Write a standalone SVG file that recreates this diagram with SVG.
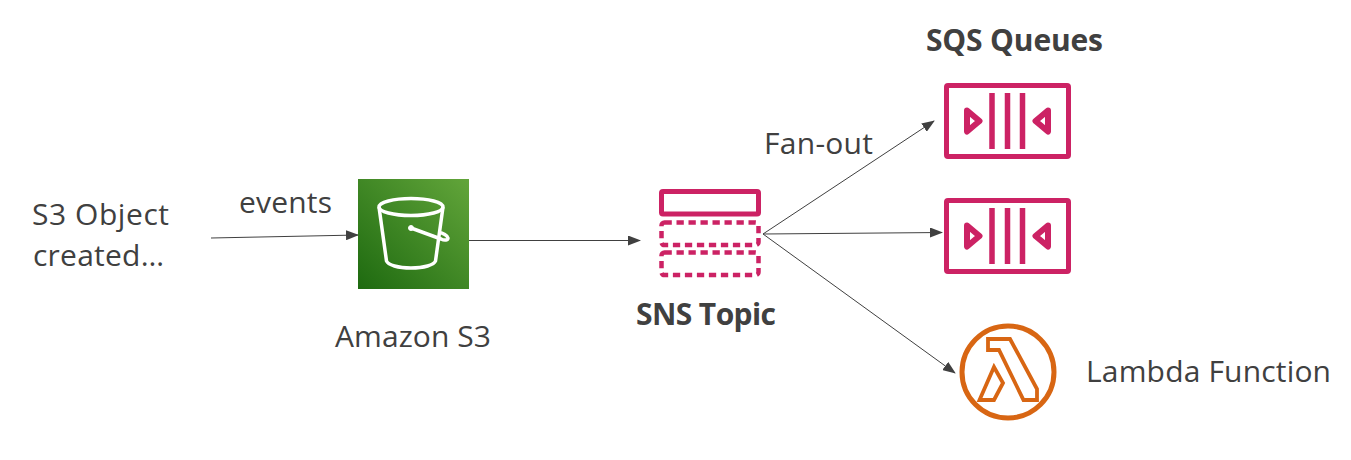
<svg xmlns="http://www.w3.org/2000/svg" width="1351" height="460" viewBox="0 0 1351 460">
<style>
text{font-family:"Open Sans","Noto Sans","Liberation Sans",sans-serif;font-size:30px;fill:#404040}
.b{font-weight:700}
.c{stroke:#404040;stroke-width:1;fill:none;marker-end:url(#a)}
.p{stroke:#cc2264;fill:none;stroke-width:5}
.d{stroke-width:4.500;stroke-dasharray:7.300 4.700}
.q{stroke:#cc2264;fill:none;stroke-width:5}
.r{stroke:#cc2264;fill:none;stroke-width:5.500}
.t{stroke:#cc2264;fill:none;stroke-width:6;stroke-linejoin:round}
.w{stroke:#fff;fill:none;stroke-width:3.500;stroke-linejoin:round}
.l{stroke:#d86613;fill:none;stroke-width:5}
.m{stroke:#d86613;fill:none;stroke-width:3.800;stroke-linejoin:miter}
</style>
<defs>
<marker id="a" markerWidth="14" markerHeight="10" refX="12" refY="5" orient="auto" markerUnits="userSpaceOnUse"><path d="M0 0L13 5L0 10Z" fill="#404040"/></marker>
<linearGradient id="g" x1="0" y1="1" x2="1" y2="0"><stop offset="0" stop-color="#1e6a10"/><stop offset="1" stop-color="#62a53a"/></linearGradient>
<g id="q"><rect class="q" x="946.500" y="85.500" width="122" height="71" rx="1.500"/>
<path class="r" d="M992 93V149M1007.500 93V149M1022.500 93V149"/>
<path class="t" d="M967 110.500L979.500 121L967 131.500Z"/>
<path class="t" d="M1048 110.500L1035.500 121L1048 131.500Z"/></g>
</defs>
<g id="connectors">
<path class="c" d="M211 238L358 235"/>
<path class="c" d="M469 240.500L640 240.500"/>
<path class="c" d="M763 234L934 121"/>
<path class="c" d="M763 234L942 232.500"/>
<path class="c" d="M763 234L955 373"/>
</g>
<g id="s3-object"><text x="32" y="225" textLength="137">S3 Object</text><text x="33" y="266" textLength="131">created…</text></g>
<text id="events" x="239" y="213" textLength="93">events</text>
<g id="s3"><rect x="358" y="179" width="111" height="110" fill="url(#g)"/>
<ellipse class="w" cx="411" cy="207" rx="32" ry="8.500"/>
<path class="w" d="M379 207L386.500 261C388 265 398 268 411 268C424 268 434 265 435.500 261L443 207"/>
<path class="w" d="M411 228L441 239C445 241 448 240 448 238C447.500 235.500 443 233 439 232.500"/>
<circle cx="411" cy="228" r="2.500" fill="#fff" stroke="#fff"/>
<text x="335" y="347" textLength="156">Amazon S3</text></g>
<g id="sns"><rect class="p" x="661.500" y="191.500" width="97" height="22.500" rx="1.500"/>
<rect class="p d" x="661.500" y="222.500" width="97" height="22.500" rx="3"/>
<rect class="p d" x="661.500" y="252.500" width="97" height="22.500" rx="3"/>
<text class="b" x="636" y="325" textLength="140">SNS Topic</text></g>
<text id="fan-out" x="764" y="154" textLength="109">Fan-out</text>
<text id="sqs-label" class="b" x="926" y="51" textLength="177">SQS Queues</text>
<g id="sqs1"><use href="#q"/></g>
<g id="sqs2"><use href="#q" y="115"/></g>
<g id="lambda"><circle class="l" cx="1008" cy="372" r="46"/>
<path class="m" d="M988 339H1010L1037 389V400H1023.500L999 350H988Z"/>
<path class="m" d="M994 367L979.500 400H994L1003 383Z"/>
<text x="1086" y="382" textLength="245">Lambda Function</text></g>
</svg>
